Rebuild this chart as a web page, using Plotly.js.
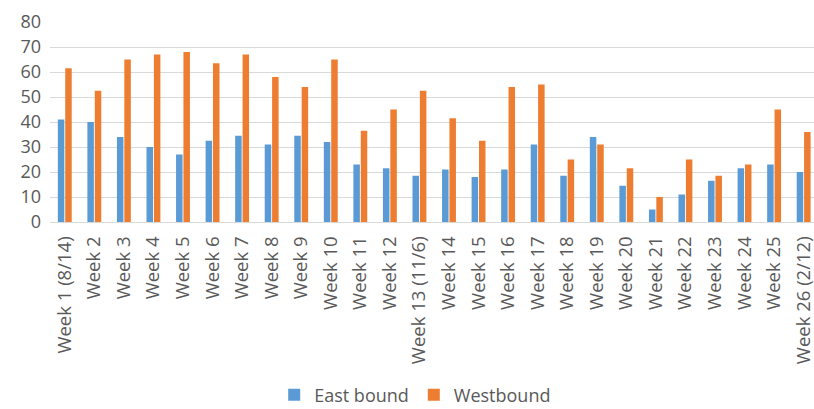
<!DOCTYPE html>
<html>
<head>
<meta charset="utf-8">
<script src="https://cdn.plot.ly/plotly-3.0.1.min.js"></script>
<style>html,body{margin:0;padding:0;background:#fff;}#chart{width:814px;height:409px;}</style>
</head>
<body>
<div id="chart"></div>
<script>
const weeks = ["Week 1 (8/14)","Week 2","Week 3","Week 4","Week 5","Week 6","Week 7","Week 8","Week 9","Week 10","Week 11","Week 12","Week 13 (11/6)","Week 14","Week 15","Week 16","Week 17","Week 18","Week 19","Week 20","Week 21","Week 22","Week 23","Week 24","Week 25","Week 26 (2/12)"];
const eastBound = [41,40,34,30,27,32.5,34.5,31,34.5,32,23,21.5,18.5,21,18,21,31,18.5,34,14.5,5,11,16.5,21.5,23,20];
const westBound = [61.5,52.5,65,67,68,63.5,67,58,54,65,36.5,45,52.5,41.5,32.5,54,55,25,31,21.5,10,25,18.5,23,45,36];
const yTicks = [0,10,20,30,40,50,60,70,80];

const font = "Open Sans, Liberation Sans, sans-serif";
const data = [
  {type:"bar", name:"East bound", x:weeks, y:eastBound, marker:{color:"#5B9BD5"}},
  {type:"bar", name:"Westbound", x:weeks, y:westBound, marker:{color:"#ED7D31"}}
];
const layout = {
  width:814, height:409,
  margin:{l:50, r:0, t:22, b:187, autoexpand:false},
  paper_bgcolor:"#fff", plot_bgcolor:"#fff",
  barmode:"group", bargap:0.5, bargroupgap:0.12,
  font:{family:font, color:"#595959", size:15},
  showlegend:true,
  legend:{orientation:"h", x:0.478, xanchor:"center", y:-0.865, yanchor:"middle", font:{size:18, color:"#595959"}, itemwidth:30, traceorder:"normal"},
  xaxis:{type:"category", range:[-0.5,25.35], tickangle:-90, tickfont:{size:18.5, color:"#595959"}, showline:true, linecolor:"#d9d9d9", linewidth:1, ticks:"", showgrid:false, fixedrange:true, automargin:false, ticklabelstandoff:6},
  yaxis:{range:[0,80], tickvals:yTicks, ticktext:yTicks.map(String), tickfont:{size:18, color:"#595959"}, showgrid:true, gridcolor:"#d9d9d9", gridwidth:1, zeroline:false, showline:false, ticks:"", ticklabelstandoff:8, fixedrange:true, automargin:false}
};
Plotly.newPlot("chart", data, layout, {displayModeBar:false, staticPlot:true});
</script>
</body>
</html>
